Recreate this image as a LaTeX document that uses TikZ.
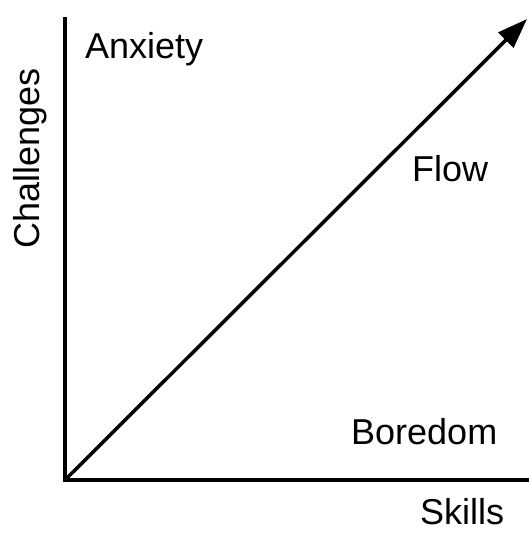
\documentclass[tikz,border=0pt]{standalone}
\usepackage{fontspec}
\setmainfont{Liberation Sans}
\usetikzlibrary{arrows.meta}
\begin{document}
\begin{tikzpicture}[x=1pt,y=-1pt,
  axis/.style={line width=3.5pt,line cap=rect},
  lbl/.style={inner sep=0pt,font=\fontsize{36}{40}\selectfont},
  diag/.style={line width=3.5pt,-{Triangle[length=30pt,width=21pt]}}]
\useasboundingbox (0,0) rectangle (529,542);
\coordinate (O) at (65,480);
\coordinate (Ytop) at (65,19);
\coordinate (Xend) at (527,480);
\coordinate (Tip) at (527,19);
\draw[axis] (Ytop) -- (O) -- (Xend);
\draw[diag] (O) -- (Tip);
\node[lbl,anchor=base west] (anx) at (85,58) {Anxiety};
\node[lbl,anchor=base west] (flow) at (412,181) {Flow};
\node[lbl,anchor=base west] (bor) at (351,444) {Boredom};
\node[lbl,anchor=base west] (sk) at (420,524) {Skills};
\node[lbl,anchor=base west,rotate=90] (ch) at (39,249) {Challenges};
\end{tikzpicture}
\end{document}
